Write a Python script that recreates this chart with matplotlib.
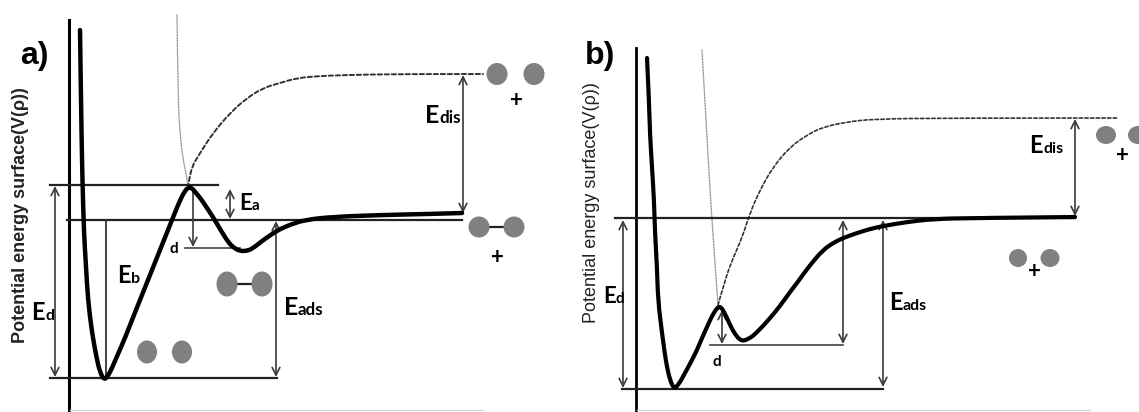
"""
plot.py - schematic potential energy surfaces (a) and (b).
Drawn in image-pixel coordinates (x right, y down), saved as out.png.
"""

import matplotlib
matplotlib.use("Agg")
import matplotlib.pyplot as plt
from matplotlib.patches import Ellipse, PathPatch
from matplotlib.path import Path

# ── curve points (pixel coords) ──────────────────────────────────────────────
A_WELL_X = [80, 81, 82, 83, 84, 86, 88, 92, 97, 100, 104, 108, 112, 118, 125, 132,
            140, 152, 162, 172, 178, 183, 188, 192, 196, 201, 205, 213, 220, 228,
            234, 240, 246, 252, 262, 272, 280, 292, 305, 330, 380, 430, 462]
A_WELL_Y = [30, 100, 160, 200, 233, 267, 300, 333, 360, 372, 380, 376, 368, 354, 338, 320,
            300, 270, 245, 220, 205, 194, 187, 188, 193, 199, 205, 217, 229, 242,
            248, 251, 251, 249, 241, 234, 229, 224, 220, 217, 215, 214, 213]

A_DISS_X = [188, 190, 200, 213, 230, 247, 263, 280, 297, 320, 347, 400, 483]
A_DISS_Y = [188, 170, 153, 133, 113, 98, 88, 83, 78, 76, 75, 74, 74]

A_REP_X = [177, 178, 180, 183, 187, 188]
A_REP_Y = [15, 100, 133, 160, 177, 188]

B_WELL_X = [647, 649, 650, 652, 654, 655, 657, 658, 662, 665, 667, 670, 674, 679, 685,
            691, 697, 702, 707, 711, 715, 718, 721, 724, 727, 731, 735, 739, 743, 748,
            753, 758, 763, 771, 780, 790, 797, 810, 823, 833, 843, 857, 870, 883, 907,
            933, 973, 1075]
B_WELL_Y = [58, 100, 135, 167, 200, 233, 267, 300, 333, 355, 367, 380, 389, 384, 373,
            362, 350, 338, 327, 318, 311, 307, 307, 312, 318, 327, 334, 339, 341, 339,
            336, 331, 326, 317, 306, 292, 283, 265, 250, 243, 238, 233, 229, 226, 222,
            219, 218, 217]

B_DISS_X = [718, 725, 733, 742, 750, 760, 773, 790, 807, 823, 847, 873, 950, 1117]
B_DISS_Y = [305, 280, 258, 238, 213, 190, 167, 147, 135, 127, 122, 119, 118, 118]

B_REP_X = [702, 706, 710, 714, 718]
B_REP_Y = [50, 120, 190, 250, 305]

# energy levels: (x0, x1, y)
A_LEVELS = [(50, 218, 185), (67, 462, 220), (50, 277, 378)]
B_LEVELS = [(615, 1075, 218), (622, 883, 389)]
DROP_LINES = [(185, 240, 248), (710, 843, 345)]

# energy arrows: (x, y_top, y_bottom, style)
A_ARROWS = [(55, 186, 377, "<->"), (230, 189, 219, "<->"), (193, 190, 247, "->"),
            (276, 221, 377, "<->"), (463, 75, 213, "<->")]
B_ARROWS = [(623, 220, 388, "<->"), (722, 310, 344, "<->"), (843, 220, 344, "<->"),
            (883, 220, 387, "<->"), (1075, 119, 216, "<->")]

# atoms: (x, y, width, height)
ATOMS_SEP = [(147, 352, 20, 23), (182, 352, 20, 23), (497, 74, 21, 22), (534, 74, 21, 22),
             (1018, 258, 18, 18), (1050, 258, 19, 18), (1106, 135, 20, 18), (1138, 135, 20, 18)]
DIMERS = [((227, 284), (262, 284), 21, 25), ((479, 227), (514, 227), 21, 21)]

# energy labels: (x of split, baseline y, subscript, size)
E_LABELS = [(45, 320, "d", 17), (131, 283, "b", 17), (252, 210, "a", 16),
            (298, 315, "ads", 18), (439, 123, "dis", 18),
            (616, 303, "d", 16), (903, 310, "ads", 17), (1043, 153, "dis", 17)]
D_LABELS = [(174, 253), (717, 366)]
PLUS = [(516, 100), (497, 257), (1122, 155), (1034, 272)]

LABEL_FONT = ["Lato", "DejaVu Sans"]


def smooth_curve(xs, ys, **kw):
    """Quadratic B-spline through the midpoints of the read points."""
    pts = list(zip(xs, ys))
    verts = [pts[0]]
    codes = [Path.MOVETO]
    for i in range(1, len(pts) - 1):
        mid = ((pts[i][0] + pts[i + 1][0]) / 2, (pts[i][1] + pts[i + 1][1]) / 2)
        if i == len(pts) - 2:
            mid = pts[-1]
        verts += [pts[i], mid]
        codes += [Path.CURVE3, Path.CURVE3]
    ax.add_patch(PathPatch(Path(verts, codes), fill=False, capstyle="round", **kw))


# ── figure ────────────────────────────────────────────────────────────────────
fig = plt.figure(figsize=(11.39, 4.12), dpi=100)
ax = fig.add_axes([0, 0, 1, 1])
ax.set_xlim(0, 1139)
ax.set_ylim(412, 0)
ax.axis("off")

# axes of the two panels
ax.plot([69, 69], [20, 412], color="black", lw=2.2)
ax.plot([636, 636], [48, 412], color="black", lw=2.0)
ax.plot([70, 483], [410, 410], color="#d8d8d8", lw=1.0)
ax.plot([637, 1090], [410, 410], color="#d8d8d8", lw=1.0)

for x0, x1, y in A_LEVELS + B_LEVELS:
    ax.plot([x0, x1], [y, y], color="#222222", lw=1.6)
for x0, x1, y in DROP_LINES:
    ax.plot([x0, x1], [y, y], color="#444444", lw=1.2)
ax.plot([106, 106], [220, 379], color="#333333", lw=1.3)

# curves
smooth_curve(A_REP_X, A_REP_Y, edgecolor="#9a9a9a", lw=1.0, ls=(0, (1, 1)))
smooth_curve(B_REP_X, B_REP_Y, edgecolor="#9a9a9a", lw=1.0, ls=(0, (1, 1)))
smooth_curve(A_DISS_X, A_DISS_Y, edgecolor="#333333", lw=1.4, ls=(0, (2.2, 1.4)))
smooth_curve(B_DISS_X, B_DISS_Y, edgecolor="#333333", lw=1.2, ls=(0, (2.0, 1.4)))
smooth_curve(A_WELL_X, A_WELL_Y, edgecolor="black", lw=3.2, joinstyle="round", zorder=4)
smooth_curve(B_WELL_X, B_WELL_Y, edgecolor="black", lw=3.0, joinstyle="round", zorder=4)

for x, y0, y1, style in A_ARROWS + B_ARROWS:
    ax.annotate("", xy=(x, y1), xytext=(x, y0),
                arrowprops=dict(arrowstyle=style, color="#3a3a3a", lw=1.2,
                                mutation_scale=14, shrinkA=0, shrinkB=0))

# atoms
for x, y, w, h in ATOMS_SEP:
    ax.add_patch(Ellipse((x, y), w, h, color="#808080", lw=0))
for (x0, y0), (x1, y1), w, h in DIMERS:
    ax.plot([x0, x1], [y0, y1], color="#222222", lw=1.6)
    ax.add_patch(Ellipse((x0, y0), w, h, color="#808080", lw=0, zorder=3))
    ax.add_patch(Ellipse((x1, y1), w, h, color="#808080", lw=0, zorder=3))

# labels
for x, y, sub, size in E_LABELS:
    ax.text(x, y, "E", ha="right", va="baseline", fontsize=size,
            fontweight="bold", family=LABEL_FONT)
    ax.text(x, y, sub, ha="left", va="baseline", fontsize=size * 0.68,
            fontweight="bold", family=LABEL_FONT)
for x, y in D_LABELS:
    ax.text(x, y, "d", ha="center", va="baseline", fontsize=11,
            fontweight="bold", family=LABEL_FONT)
for x, y in PLUS:
    ax.text(x, y, "+", ha="center", va="center", fontsize=16,
            fontweight="bold", family=LABEL_FONT)

ax.text(34, 56, "a)", ha="center", va="center", fontsize=23,
        fontweight="bold", family="Liberation Sans")
ax.text(600, 56, "b)", ha="center", va="center", fontsize=23,
        fontweight="bold", family="Liberation Sans")
ax.text(21, 215, "Potential energy surface(V(\u03c1))", rotation=90, ha="center",
        va="center", fontsize=13, fontweight="bold", family="Liberation Sans",
        color="#222222")
ax.text(592, 203, "Potential energy surface(V(\u03c1))", rotation=90, ha="center",
        va="center", fontsize=13, family="Liberation Sans", color="#222222")

fig.savefig("out.png", dpi=100)
plt.close(fig)
